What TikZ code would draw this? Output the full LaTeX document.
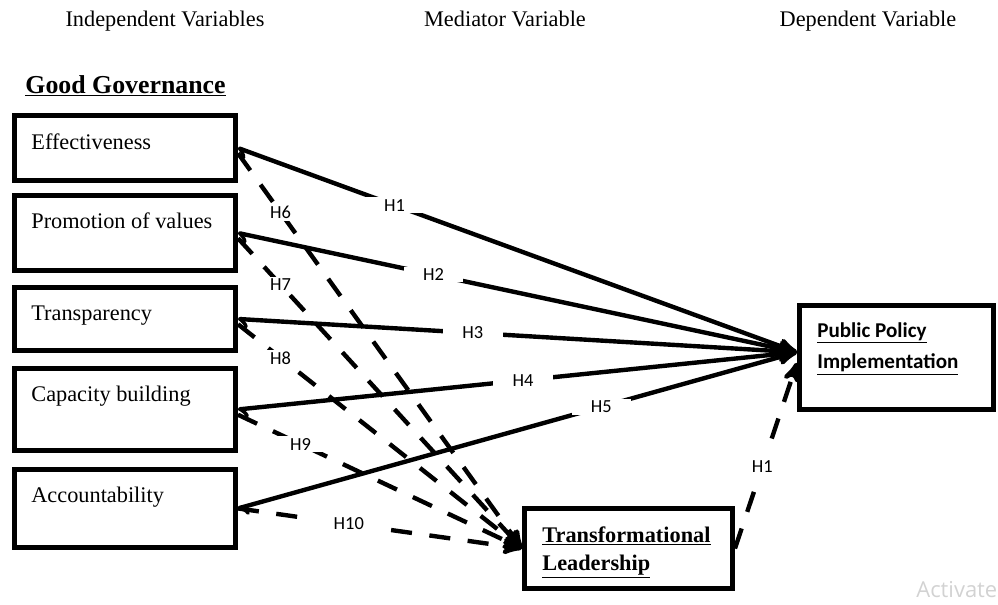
\documentclass[tikz,border=0pt]{standalone}
\usepackage{fontspec}
\setmainfont{Liberation Serif}
\newfontfamily\calibri{Carlito}
\newfontfamily\wmfont{Open Sans}
\usepackage{tikz}
\usetikzlibrary{positioning, arrows}
\tikzset{
>=stealth', % bold arrow heads
varbox/.style={draw, line width=0.1cm, minimum width=4.42cm, inner sep=0pt}, % the frame of a variable
boxtext/.style={anchor=base west, inner sep=0pt, font=\fontsize{12.7}{15}\selectfont}, % text in a frame
heading/.style={anchor=base, inner sep=0pt, font=\fontsize{12.7}{15}\selectfont}, % column titles
hyp/.style={fill=white, inner xsep=11pt, inner ysep=1pt, font=\calibri\fontsize{10.5}{12}\selectfont}, % hypothesis labels
direct/.style={line width=2.5pt, left to->}, % direct effect
mediated/.style={line width=2.5pt, dash pattern=on 12pt off 10pt, ->}, % effect through the mediator
}

\begin{document}
\begin{tikzpicture}[x=0.02cm, y=-0.02cm]
    \useasboundingbox (0,0) rectangle (998,605);

    \node[heading] (indep) at (165,27) {Independent Variables};
    \node[heading] (medi) at (505,27) {Mediator Variable};
    \node[heading] (dep) at (868,27) {Dependent Variable};
    \node[anchor=base, inner sep=0pt, font=\bfseries\fontsize{14.7}{17}\selectfont] (gg) at (125.5,93) {\underline{Good Governance}};

    \node[varbox, minimum height=1.30cm] (eff) at (125,148) {};
    \node[varbox, minimum height=1.50cm, below=0.20cm of eff] (prom) {};
    \node[varbox, minimum height=1.26cm, below=0.24cm of prom] (trans) {};
    \node[varbox, minimum height=1.64cm, below=0.26cm of trans] (cap) {};
    \node[varbox, minimum height=1.56cm, below=0.28cm of cap] (acc) {};

    \node[boxtext] (efftext) at ([xshift=0.38cm, yshift=-0.72cm]eff.north west) {Effectiveness};
    \node[boxtext] (promtext) at ([xshift=0.38cm, yshift=-0.72cm]prom.north west) {Promotion of values};
    \node[boxtext] (transtext) at ([xshift=0.38cm, yshift=-0.72cm]trans.north west) {Transparency};
    \node[boxtext] (captext) at ([xshift=0.38cm, yshift=-0.72cm]cap.north west) {Capacity building};
    \node[boxtext] (acctext) at ([xshift=0.38cm, yshift=-0.72cm]acc.north west) {Accountability};

    \node[varbox, minimum width=3.88cm, minimum height=2.08cm] (ppi) at (896.5,357.5) {};
    \node[boxtext, font=\calibri\bfseries\fontsize{12}{18}\selectfont] (ppitext) at ([xshift=0.40cm, yshift=-0.68cm]ppi.north west)
        {\begin{tabular}[t]{@{}l@{}}\underline{Public Policy}\\\underline{Implementation}\end{tabular}};

    \node[varbox, minimum width=4.16cm, minimum height=1.60cm] (tl) at (628.5,548.5) {};
    \node[boxtext, font=\bfseries\fontsize{12.7}{16}\selectfont] (tltext) at ([xshift=0.40cm, yshift=-0.72cm]tl.north west)
        {\begin{tabular}[t]{@{}l@{}}\underline{Transformational}\\\underline{Leadership}\end{tabular}};

    \node[anchor=base west, inner sep=0pt, text=gray!35, font=\wmfont\fontsize{12.5}{15}\selectfont] (activate) at (916,597) {Activate};

    % paths through the mediator
    \draw[mediated] ([yshift=-3pt]eff.east) -- node[hyp, pos=0.15] {H6} (tl.west);
    \draw[mediated] ([yshift=-3pt]prom.east) -- node[hyp, pos=0.15] {H7} (tl.west);
    \draw[mediated] ([yshift=-3pt]trans.east) -- node[hyp, pos=0.15] {H8} (tl.west);
    \draw[mediated] ([yshift=-3pt]cap.east) -- node[hyp, pos=0.22] {H9} (tl.west);
    \draw[mediated] (acc.east) -- node[hyp, pos=0.39] {H10} (tl.west);
    \draw[mediated] (tl.east) -- node[hyp, pos=0.44, inner ysep=7pt] {H1} ([yshift=-3pt]ppi.west);

    % direct paths
    \draw[direct] (eff.east) -- node[hyp, pos=0.28] {H1} ([yshift=3pt]ppi.west);
    \draw[direct] (prom.east) -- node[hyp, pos=0.35] {H2} ([yshift=3pt]ppi.west);
    \draw[direct] (trans.east) -- node[hyp, pos=0.42] {H3} ([yshift=3pt]ppi.west);
    \draw[direct] (cap.east) -- node[hyp, pos=0.51] {H4} ([yshift=3pt]ppi.west);
    \draw[direct] (acc.east) -- node[hyp, pos=0.65] {H5} ([yshift=3pt]ppi.west);
\end{tikzpicture}
\end{document}
